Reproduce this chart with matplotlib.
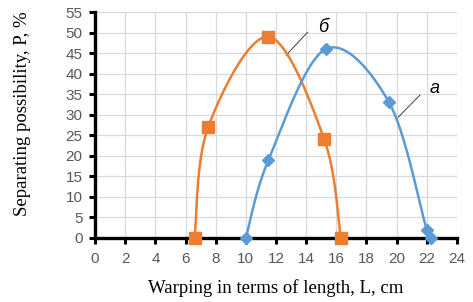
import matplotlib.pyplot as plt
import numpy as np

# curve a (blue)
a_x = [10.0, 11.5, 15.3, 19.5, 22.0, 22.3]
a_y = [0.0, 19.0, 46.0, 33.0, 2.0, 0.0]
# curve б (orange)
b_x = [6.6, 7.5, 11.5, 15.2, 16.3]
b_y = [0.0, 27.0, 49.0, 24.0, 0.0]

xticks = list(range(0, 25, 2))
yticks = list(range(0, 56, 5))


def smooth(xs, ys, n=40):
    # excel-like smoothed line: bezier segments through the points
    p = np.column_stack([xs, ys])
    p = np.vstack([p[0], p, p[-1]])
    out = []
    t = np.linspace(0, 1, n)[:, None]
    for i in range(1, len(p) - 2):
        p0, p1, p2, p3 = p[i - 1], p[i], p[i + 1], p[i + 2]
        c1 = p1 + (p2 - p0) / 6
        c2 = p2 - (p3 - p1) / 6
        seg = ((1 - t) ** 3) * p1 + 3 * ((1 - t) ** 2) * t * c1 + 3 * (1 - t) * t ** 2 * c2 + t ** 3 * p2
        out.append(seg)
    out = np.vstack(out)
    return out[:, 0], out[:, 1]


fig = plt.figure(figsize=(4.73, 3.02), dpi=100)
ax = fig.add_axes([0.201, 0.212, 0.765, 0.748])

blue = '#5B9BD5'
orange = '#ED7D31'

sx, sy = smooth(b_x, b_y)
ax.plot(sx, sy, color=orange, lw=1.8, zorder=3, clip_on=False)
ax.plot(b_x, b_y, 's', color=orange, ms=9, zorder=4, clip_on=False)

sx, sy = smooth(a_x, a_y)
ax.plot(sx, sy, color=blue, lw=1.8, zorder=3, clip_on=False)
ax.plot(a_x, a_y, 'D', color=blue, ms=6.5, zorder=4, clip_on=False)

ax.set_xlim(0, 24)
ax.set_ylim(0, 55)
ax.set_xticks(xticks)
ax.set_yticks(yticks)
ax.grid(True, color='#D9D9D9', lw=0.9)
ax.set_axisbelow(True)

for s in ['top', 'right']:
    ax.spines[s].set_visible(False)
for s in ['left', 'bottom']:
    ax.spines[s].set_linewidth(2.4)
    ax.spines[s].set_color('black')
    ax.spines[s].set_zorder(2.5)

ax.tick_params(axis='both', direction='out', length=4, width=2.2, color='black',
               labelcolor='#595959', labelsize=11)
ax.tick_params(axis='x', pad=6)
ax.tick_params(axis='y', pad=5)
for lab in ax.get_xticklabels() + ax.get_yticklabels():
    lab.set_family('Liberation Sans')

ax.set_xlabel('Warping in terms of length, L, cm', family='Liberation Serif', fontsize=13.5, va='center')
ax.set_ylabel('Separating possibility, P, %', family='Liberation Serif', fontsize=13.5, va='center')
ax.xaxis.set_label_coords(0.5, -0.221)
ax.yaxis.set_label_coords(-0.2, 0.55)

# labels with leader lines
ax.plot([14.1, 12.67], [50.1, 44.5], color='#404040', lw=0.7)
ax.text(15.1, 51.3, 'б', fontsize=13, style='italic', ha='center', va='center', family='Liberation Sans')
ax.plot([21.55, 20.1], [34.8, 29.4], color='#404040', lw=0.7)
ax.text(22.5, 36.5, 'а', fontsize=13, style='italic', ha='center', va='center', family='Liberation Sans')

fig.savefig('out.png', dpi=100)
